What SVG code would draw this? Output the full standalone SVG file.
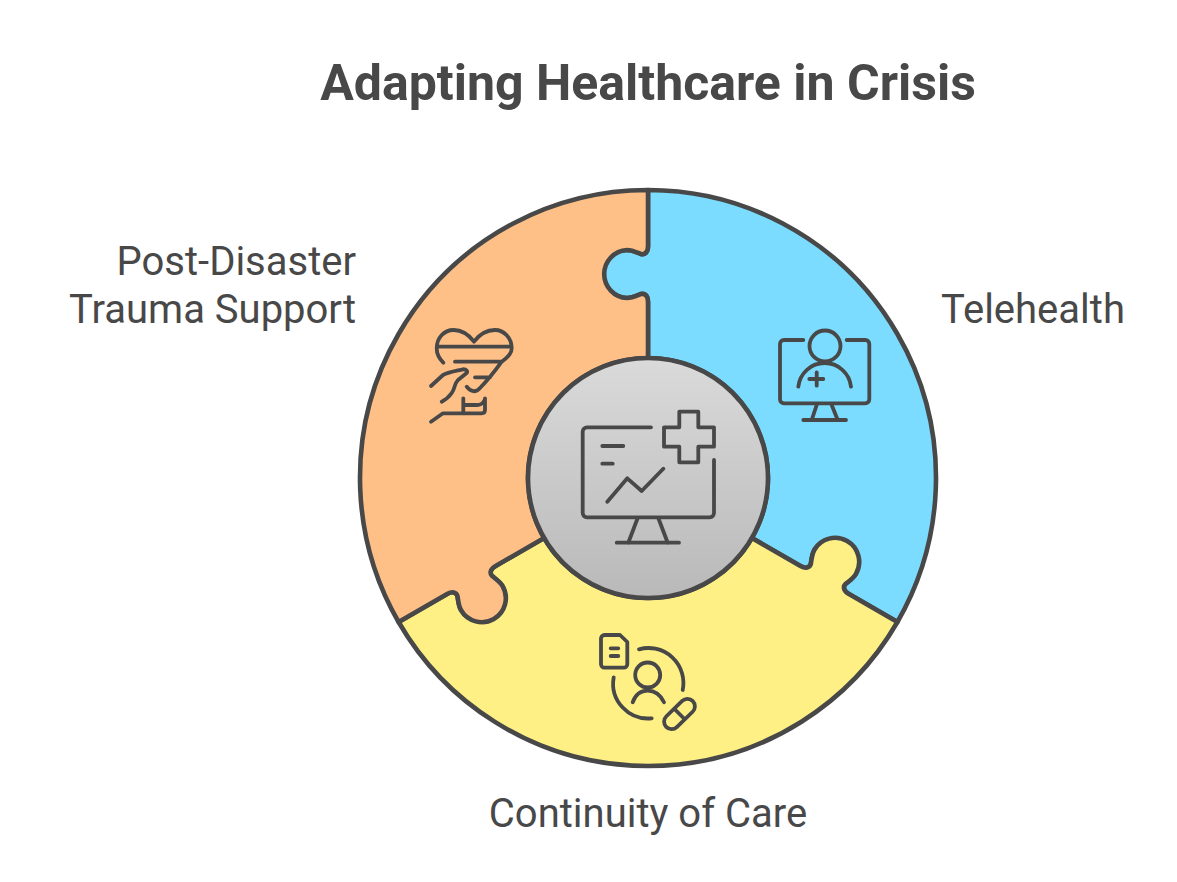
<svg xmlns="http://www.w3.org/2000/svg" width="1177" height="882" viewBox="0 0 1177 882">
<style>
.seg{stroke:#484848;stroke-width:4.6;stroke-linejoin:round}
.ic{fill:none;stroke:#484848;stroke-width:3.8;stroke-linecap:round;stroke-linejoin:round}
.t{font-family:Roboto,"Liberation Sans",sans-serif;fill:#484848;font-size:40px}
.title{font-family:Roboto,"Liberation Sans",sans-serif;fill:#484848;font-size:50px;font-weight:700;text-anchor:middle}
</style>
<defs>
<linearGradient id="g" x1="0" y1="0" x2="0" y2="1"><stop offset="0" stop-color="#dadada"/><stop offset="1" stop-color="#b9b9b9"/></linearGradient>
<path id="seg" d="M648 358V302C648 296 645 293 641 294C636 296 632 298 627 298A24 24 0 0 1 627 250C632 250 636 252 641 254C645 255 648 252 648 246V190A288 288 0 0 1 897.4 622L848.9 594C843.7 591 842.6 586.9 845.5 583.9C849.7 580.6 853.4 578.1 855.9 573.8A24 24 0 0 0 814.4 549.8C811.9 554.1 811.6 558.6 810.8 563.9C809.7 567.9 805.6 569 800.4 566L751.9 538A120 120 0 0 0 648 358Z"/>
</defs>
<text class="title" x="648" y="100">Adapting Healthcare in Crisis</text>
<g id="telehealth">
<use href="#seg" class="seg" fill="#7bdcff"/>
<g class="ic">
<path d="M803.3 340H784A4 4 0 0 0 780 344V399.300A4 4 0 0 0 784 403.300H865.300A4 4 0 0 0 869.300 399.300V344A4 4 0 0 0 865.300 340H846.700"/>
<circle cx="825" cy="346" r="15.500"/>
<path d="M798.300 386.700A26.500 26.500 0 0 1 851 386.700M809.300 379H823.300M816.700 372.300V385.700M816.700 405L811.700 420M831.700 405L837.700 420M803.300 420H846"/>
</g>
<text class="t" x="941" y="323">Telehealth</text>
</g>
<g id="continuity">
<use href="#seg" class="seg" fill="#fff085" transform="rotate(120 648 478)"/>
<g class="ic">
<path d="M604.500 635H620L627.300 642V664.200A3.500 3.500 0 0 1 623.800 667.700H604.500A3.500 3.500 0 0 1 601 664.200V638.500A3.500 3.500 0 0 1 604.500 635ZM610.700 648.300H618.300M610.700 656H618.300"/>
<circle cx="647.700" cy="675" r="12.500"/>
<path d="M632.700 702.300C636 693 642 690.700 647.700 690.700C654 690.700 660 694 664 702.300M639 649.300A35 35 0 0 1 682.700 690M613.700 677.300A35 35 0 0 0 651.700 718.300"/>
<rect x="-18.500" y="-7.500" width="37" height="15" rx="7.500" transform="translate(679.500 714) rotate(-44)"/>
<path d="M674.500 709L684.500 719"/>
</g>
<text class="t" x="648" y="827" text-anchor="middle">Continuity of Care</text>
</g>
<g id="trauma">
<use href="#seg" class="seg" fill="#ffc088" transform="rotate(240 648 478)"/>
<g class="ic">
<path d="M443.300 362.700C439 358.500 436.700 354 436.700 348.300C436.700 338 444 330 453.500 330C462 330 469 335 474 341.700C479 335 486 330 495 330C504 330 511.700 338 511.700 348.300C511.700 353 509 356 501.700 361.700C495 371 488 380 480 388C476 392.500 471 392.500 466.700 386.700M437 346.700H511.700M455 361.700H501.700M475 377.300H490"/>
<path d="M431 386L443 375C449 372 456 371 463 369.300C466 369 468 371 466.700 373L458 380C454 384 455 389 451.700 393C449 397 445 400 441.700 401.700M431 421.700L443 413.300H481.700C484 413.300 485 412 485 410V398.300M463.300 398.300V413M463.300 405H477C481 405 483 403 484 401"/>
</g>
<text class="t" x="356" y="275" text-anchor="end">Post-Disaster</text>
<text class="t" x="356" y="323" text-anchor="end">Trauma Support</text>
</g>
<g id="center">
<circle cx="648" cy="478" r="120" fill="url(#g)" stroke="#484848" stroke-width="4.600"/>
<g class="ic">
<path d="M651 427.300H587A4.300 4.300 0 0 0 582.700 431.600V513A4.300 4.300 0 0 0 587 517.300H709.700A4.300 4.300 0 0 0 714 513V460"/>
<path d="M679.300 427.300V411.700H698.300V427.300H714V446.700H698.300V462.300H679.300V446.700H664V427.300Z"/>
<path d="M602.300 446H623.300M602.300 463.700H612.700M607.300 501.700L627.300 478.300L641.700 491L663.300 468.700M637.700 518L628.300 542.700M658.300 518L667.700 542.700M616.700 542.700H679"/>
</g>
</g>
</svg>
